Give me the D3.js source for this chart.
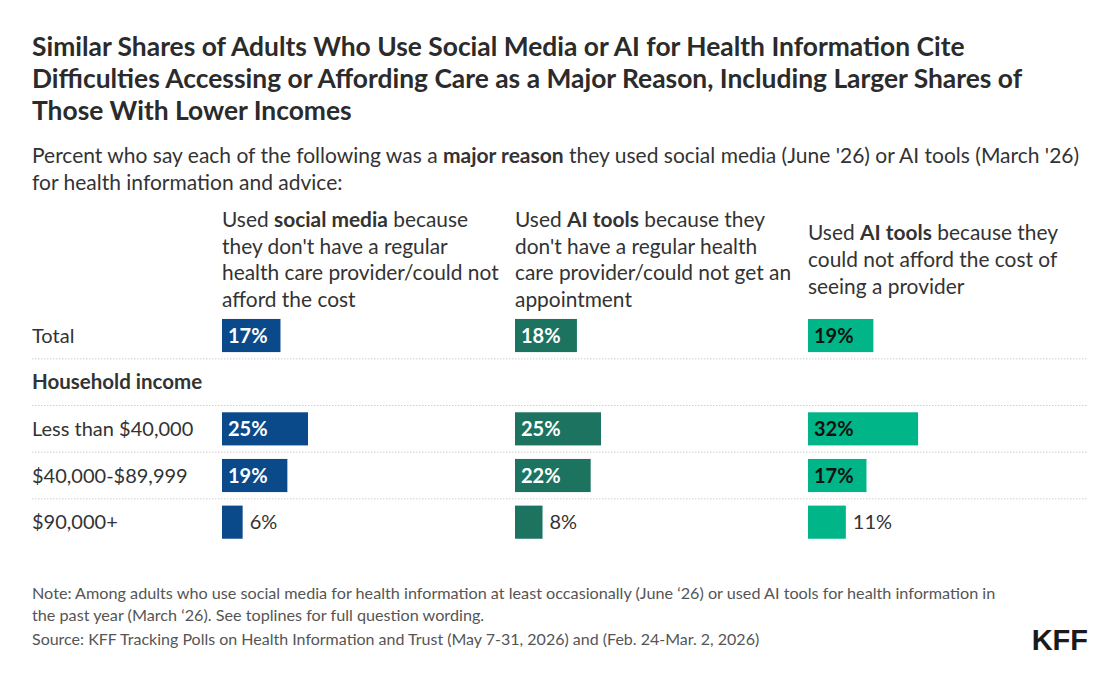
<!DOCTYPE html>
<html>
<head>
<meta charset="utf-8">
<script src="https://cdn.jsdelivr.net/npm/d3@7"></script>
<style>
  html, body { margin: 0; padding: 0; background: #fff; }
  svg { display: block; font-family: Lato, "Noto Sans", sans-serif; }
</style>
</head>
<body>
<svg id="chart" width="1120" height="683"></svg>
<script>
// ---------- DATA ----------
const titleLines = [
  "Similar Shares of Adults Who Use Social Media or AI for Health Information Cite",
  "Difficulties Accessing or Affording Care as a Major Reason, Including Larger Shares of",
  "Those With Lower Incomes"
];
const subtitleLines = [
  [["Percent who say each of the following was a ", false], ["major reason", true], [" they used social media (June '26) or AI tools (March '26)", false]],
  [["for health information and advice:", false]]
];
const columns = ["social", "aiProvider", "aiCost"];
const columnHeaders = [
  [[["Used ", false], ["social media", true], [" because", false]], [["they don't have a regular", false]], [["health care provider/could not", false]], [["afford the cost", false]]],
  [[["Used ", false], ["AI tools", true], [" because they", false]], [["don't have a regular health", false]], [["care provider/could not get an", false]], [["appointment", false]]],
  [[["Used ", false], ["AI tools", true], [" because they", false]], [["could not afford the cost of", false]], [["seeing a provider", false]]]
];
const rows = ["Total", "Household income", "Less than $40,000", "$40,000-$89,999", "$90,000+"];
const groupHeaderRows = ["Household income"];
const socialValues     = [17, null, 25, 19, 6];
const aiProviderValues = [18, null, 25, 22, 8];
const aiCostValues     = [19, null, 32, 17, 11];
const seriesValues = [socialValues, aiProviderValues, aiCostValues];
const colors = ["#0b4a8a", "#1c7360", "#00b587"];
const insideLabelColors = ["#ffffff", "#ffffff", "#111111"];
const noteLines = [
  "Note: Among adults who use social media for health information at least occasionally (June \u201826) or used AI tools for health information in",
  "the past year (March \u201826). See toplines for full question wording."
];
const sourceLine = "Source: KFF Tracking Polls on Health Information and Trust (May 7-31, 2026) and (Feb. 24-Mar. 2, 2026)";

// ---------- LAYOUT ----------
const svg = d3.select("#chart");
const left = 32, right = 1088;
const textColor = "#333333";

function richLine(sel, parts) {
  parts.forEach(([t, b]) => sel.append("tspan").attr("font-weight", b ? 700 : 400).text(t));
}

// Title
svg.append("g").selectAll("text").data(titleLines).join("text")
  .attr("x", left).attr("y", (d, i) => 56 + i * 32)
  .attr("font-size", 26.4).attr("font-weight", 700).attr("fill", "#2b2b2b")
  .text(d => d);

// Subtitle
subtitleLines.forEach((parts, i) => {
  const t = svg.append("text").attr("x", left).attr("y", 163 + i * 27)
    .attr("font-size", 21).attr("fill", textColor);
  richLine(t, parts);
});

// Scales
const xCol = d3.scalePoint().domain(columns).range([222, 808]);
const x = d3.scaleLinear().domain([0, 100]).range([0, 344]);
const y = d3.scaleBand().domain(rows).range([312.2, 545.5]).paddingInner(0.29).paddingOuter(0.145);
const step = y.step();

// Column headers (vertically centered against the tallest)
const headerLineH = 26.6;
const maxLines = d3.max(columnHeaders, h => h.length);
columnHeaders.forEach((lines, ci) => {
  const offset = (maxLines - lines.length) * headerLineH / 2;
  lines.forEach((parts, li) => {
    const t = svg.append("text").attr("x", xCol(columns[ci]))
      .attr("y", 227 + offset + li * headerLineH)
      .attr("font-size", 20.9).attr("fill", textColor);
    richLine(t, parts);
  });
});

// Separators (dotted) between rows
const sepRows = rows.slice(1);
svg.append("g").selectAll("line").data(sepRows).join("line")
  .attr("x1", left).attr("x2", right)
  .attr("y1", d => y(d) - step * y.paddingInner() / 2)
  .attr("y2", d => y(d) - step * y.paddingInner() / 2)
  .attr("stroke", "#cfcfcf").attr("stroke-width", 1).attr("stroke-dasharray", "1.5,1.5");

// Row labels
svg.append("g").selectAll("text").data(rows).join("text")
  .attr("x", left)
  .attr("y", d => y(d) + y.bandwidth() / 2 + 7)
  .attr("font-size", d => groupHeaderRows.includes(d) ? 20.5 : 20)
  .attr("font-weight", d => groupHeaderRows.includes(d) ? 700 : 400)
  .attr("fill", textColor)
  .text(d => d);

// Bars
columns.forEach((col, ci) => {
  const data = rows.map((r, i) => ({ row: r, v: seriesValues[ci][i] })).filter(d => d.v != null);
  const g = svg.append("g").attr("transform", `translate(${xCol(col)},0)`);
  g.selectAll("rect").data(data).join("rect")
    .attr("x", 0).attr("y", d => y(d.row))
    .attr("width", d => x(d.v)).attr("height", y.bandwidth())
    .attr("fill", colors[ci]);
  g.selectAll("text").data(data).join("text")
    .attr("x", d => x(d.v) >= 50 ? 6 : x(d.v) + 7)
    .attr("y", d => y(d.row) + y.bandwidth() / 2 + 7)
    .attr("font-size", 20).attr("font-weight", d => x(d.v) >= 50 ? 700 : 400)
    .attr("fill", d => x(d.v) >= 50 ? insideLabelColors[ci] : textColor)
    .text(d => d.v + "%");
});

// Footer
svg.append("g").selectAll("text").data(noteLines).join("text")
  .attr("x", left).attr("y", (d, i) => 599 + i * 22)
  .attr("font-size", 16.2).attr("fill", "#555555").text(d => d);
svg.append("text").attr("x", left).attr("y", 645)
  .attr("font-size", 16).attr("fill", "#555555").text(sourceLine);

// Logo
svg.append("text").attr("x", right).attr("y", 650).attr("text-anchor", "end")
  .attr("font-family", "'Liberation Sans', Arial, sans-serif")
  .attr("font-size", 29).attr("font-weight", 700).attr("fill", "#1a1a1a")
  .text("KFF");
</script>
</body>
</html>
